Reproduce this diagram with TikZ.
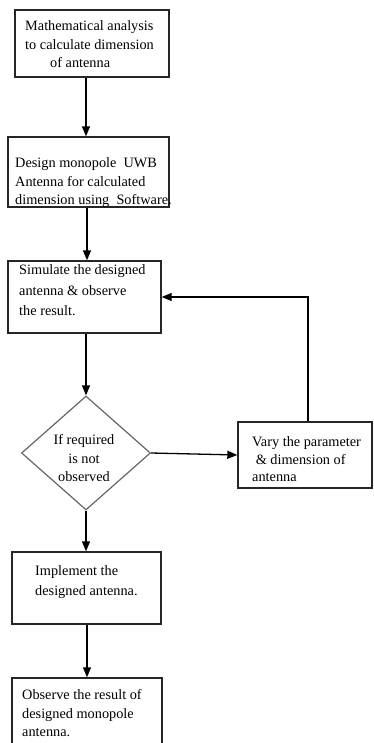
\documentclass[tikz,border=0pt]{standalone}
\usepackage{fontspec}
\setmainfont{Liberation Serif}
\usetikzlibrary{shapes.geometric,arrows.meta}
\begin{document}
\begin{tikzpicture}[x=1pt,y=-1pt]
            \tikzstyle{box}=[rectangle, draw=black!85, line width=1.4pt, inner sep=0pt]
            \tikzstyle{txt}=[align=left, inner sep=0pt, anchor=north west, font=\fontsize{14.3}{18.5}\selectfont]
            \tikzstyle{arr}=[black, line width=1.3pt, -{Triangle[length=10pt,width=8pt]}]

            \useasboundingbox (0,0) rectangle (373,743);

            \node[box, minimum width=154, minimum height=67] (calc) at (92,43.5) {};
            \node[box, minimum width=161, minimum height=70] (design) at (88.5,172) {};
            \node[box, minimum width=153, minimum height=72] (sim) at (84.5,297) {};
            \node[diamond, draw=black!60, line width=1.2pt, inner sep=0pt, minimum width=129, minimum height=114] (check) at (86,453) {};
            \node[box, minimum width=134, minimum height=66] (vary) at (305,455) {};
            \node[box, minimum width=149, minimum height=72] (impl) at (86.5,588) {};
            \node[box, minimum width=150, minimum height=76] (obs) at (87,716) {};

            \node[txt] (calct) at (25,20.5) {Mathematical analysis\\to calculate dimension\\\hspace*{25pt}of antenna};
            \node[txt] (designt) at (15,157.5) {Design monopole\ \ UWB\\Antenna for calculated\\dimension using\ \ Software.};
            \node[txt, font=\fontsize{14.3}{20.5}\selectfont] (simt) at (19,264.5) {Simulate the designed\\antenna \& observe\\the result.};
            \node[txt, align=center, anchor=north] (checkt) at (84,434.5) {If required\\is not\\observed};
            \node[txt, font=\fontsize{14.3}{17.5}\selectfont] (varyt) at (252,436.5) {Vary the parameter\\\ \& dimension of\\antenna};
            \node[txt, font=\fontsize{14.3}{20}\selectfont] (implt) at (35,565.5) {Implement the\\designed antenna.};
            \node[txt] (obst) at (22,689.5) {Observe the result of\\designed monopole\\antenna.};

            \draw[arr] (calc.south -| check) -- (design.north -| check);
            \draw[arr] ([xshift=1pt]design.south -| check) -- ([xshift=1pt]sim.north -| check);
            \draw[arr] (sim.south -| check) -- (check.north);
            \draw[arr] (check.east) -- (vary.west);
            \draw[arr] ([xshift=3pt]vary.north) |- (sim.east);
            \draw[arr] (check.south) -- (impl.north -| check);
            \draw[arr] ([xshift=1pt]impl.south -| check) -- ([xshift=1pt]obs.north -| check);
        \end{tikzpicture}
\end{document}
